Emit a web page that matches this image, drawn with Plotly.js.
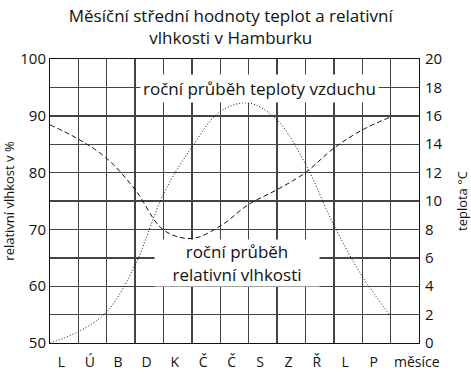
<!DOCTYPE html>
<html>
<head>
<meta charset="utf-8">
<script src="https://cdn.plot.ly/plotly-3.0.1.min.js"></script>
<style>
  html, body { margin: 0; padding: 0; background: #fff; }
  #chart { width: 471px; height: 371px; }
</style>
</head>
<body>
<div id="chart"></div>
<script>
// month initials along the bottom, plus the axis word at the right end
var monthLabels = ["L", "Ú", "B", "D", "K", "Č", "Č", "S", "Z", "Ř", "L", "P"];
var axisWord = "měsíce";

// curve points sit on the vertical grid lines 0..12
var gridPos = [0, 1, 2, 3, 4, 5, 6, 7, 8, 9, 10, 11, 12];
var humidity = [88.4, 85.9, 82.5, 77.0, 69.9, 68.4, 70.6, 74.4, 77.0, 80.0, 84.3, 87.5, 89.8];
var temperature = [0, 0.8, 2.2, 5.5, 10.5, 13.8, 16.3, 16.9, 15.7, 12.6, 8.3, 4.7, 1.9];

var font = "Open Sans, sans-serif";
var gridColor = "#444";

var labelPos = monthLabels.map(function (m, i) { return i + 0.4; });
labelPos.push(12.92);
var labelText = monthLabels.concat([axisWord]);

var humidityTrace = {
    x: gridPos,
    y: humidity,
    type: "scatter",
    mode: "lines",
    line: {color: "#111", width: 1, dash: "5px,3px", shape: "spline"},
    hoverinfo: "skip"
};

var tempTrace = {
    x: gridPos,
    y: temperature,
    yaxis: "y2",
    type: "scatter",
    mode: "lines",
    line: {color: "#111", width: 1, dash: "1px,2px", shape: "spline"},
    hoverinfo: "skip"
};

var layout = {
    width: 471,
    height: 371,
    margin: {l: 50, r: 52, t: 59, b: 28},
    paper_bgcolor: "#fff",
    plot_bgcolor: "#fff",
    showlegend: false,
    font: {family: font, size: 14, color: "#111"},
    title: {
        text: "Měsíční střední hodnoty teplot a relativní<br>vlhkosti v Hamburku",
        font: {family: font, size: 17, color: "#111"},
        x: 0.49, xanchor: "center",
        y: 0.94, yanchor: "top"
    },
    xaxis: {
        range: [0, 13],
        tickmode: "array",
        tickvals: labelPos,
        ticktext: labelText,
        ticks: "",
        ticklabelstandoff: 6,
        showgrid: false,
        zeroline: false,
        showline: true,
        mirror: true,
        linecolor: "#111",
        linewidth: 1,
        tickfont: {size: 14},
        minor: {
            tickmode: "array",
            tickvals: [1, 2, 3, 4, 5, 6, 7, 8, 9, 10, 11, 12],
            showgrid: true,
            gridcolor: gridColor,
            gridwidth: 1.4,
            ticks: ""
        },
        fixedrange: true
    },
    yaxis: {
        range: [50, 100],
        dtick: 10,
        ticks: "",
        tickfont: {size: 15},
        showgrid: false,
        zeroline: false,
        showline: true,
        mirror: true,
        linecolor: "#111",
        linewidth: 1,
        title: {text: "relativní vlhkost v %", font: {size: 13}, standoff: 2},
        fixedrange: true
    },
    yaxis2: {
        range: [0, 20],
        dtick: 2,
        overlaying: "y",
        side: "right",
        ticks: "",
        tickfont: {size: 15},
        ticklabelstandoff: 5,
        showgrid: true,
        gridcolor: gridColor,
        gridwidth: 1.4,
        zeroline: false,
        title: {text: "teplota °C", font: {size: 13}, standoff: 18},
        fixedrange: true
    },
    annotations: [
        {
            x: 7.39, y: 94.8, xref: "x", yref: "y",
            text: "roční průběh teploty vzduchu",
            showarrow: false,
            font: {family: font, size: 17, color: "#111"},
            bgcolor: "#fff",
            borderpad: 2
        },
        {
            x: 6.58, y: 64.1, xref: "x", yref: "y",
            text: "roční průběh<br>relativní vlhkosti",
            showarrow: false,
            font: {family: font, size: 17, color: "#111"},
            bgcolor: "#fff",
            width: 160,
            height: 42,
            borderpad: 2
        }
    ]
};

Plotly.newPlot("chart", [humidityTrace, tempTrace], layout, {staticPlot: true});
</script>
</body>
</html>
